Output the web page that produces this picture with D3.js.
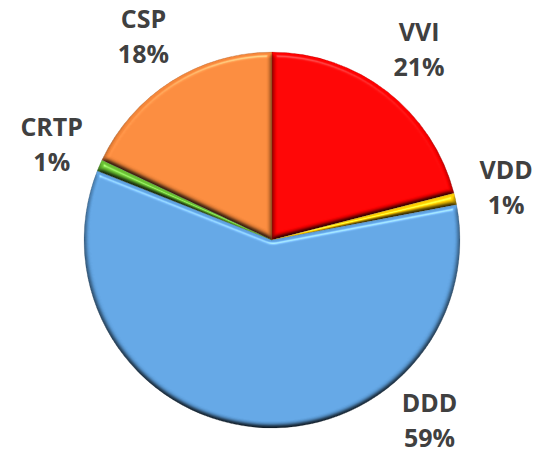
<!DOCTYPE html>
<html lang="en">
<head>
<meta charset="UTF-8">
<title>Pacing mode pie</title>
<script src="https://d3js.org/d3.v7.min.js"></script>
<style>
  body { margin: 0; background: #fff; }
  text { font-family: "Open Sans", "Noto Sans", sans-serif; font-weight: bold; fill: #404040; }
</style>
</head>
<body>
<script>
const width = 537;
const height = 455;

// data (clockwise from 12 o'clock)
const modes = ["VVI", "VDD", "DDD", "CRTP", "CSP"];
const shares = [21, 1, 59, 1, 18];
const colors = ["#ff0000", "#ffcc00", "#5fa2e0", "#68c032", "#f5873a"];

const cx = 272, cy = 240, r = 188;

const svg = d3.select("body").append("svg")
    .attr("width", width)
    .attr("height", height);

// bevel-ish lighting, light from the top
const defs = svg.append("defs");
const f = defs.append("filter").attr("id", "bevel")
    .attr("color-interpolation-filters", "sRGB")
    .attr("x", "-10%").attr("y", "-10%").attr("width", "120%").attr("height", "120%");
f.append("feGaussianBlur").attr("in", "SourceAlpha").attr("stdDeviation", 2.5).attr("result", "blur");
f.append("feDiffuseLighting").attr("in", "blur").attr("surfaceScale", 4)
    .attr("diffuseConstant", 1.155).attr("lighting-color", "#fff").attr("result", "diff")
  .append("feDistantLight").attr("azimuth", 270).attr("elevation", 60);
f.append("feComposite").attr("in", "SourceGraphic").attr("in2", "diff")
    .attr("operator", "arithmetic").attr("k1", 1).attr("k2", 0).attr("k3", 0).attr("k4", 0)
    .attr("result", "lit");
f.append("feSpecularLighting").attr("in", "blur").attr("surfaceScale", 4)
    .attr("specularConstant", 0.5).attr("specularExponent", 40).attr("lighting-color", "#fff")
    .attr("result", "spec")
  .append("feDistantLight").attr("azimuth", 270).attr("elevation", 50);
f.append("feComposite").attr("in", "spec").attr("in2", "SourceAlpha").attr("operator", "in").attr("result", "specIn");
f.append("feComposite").attr("in", "lit").attr("in2", "specIn")
    .attr("operator", "arithmetic").attr("k1", 0).attr("k2", 1).attr("k3", 0.6).attr("k4", 0)
    .attr("result", "out");
f.append("feComposite").attr("in", "out").attr("in2", "SourceAlpha").attr("operator", "in");

const pie = d3.pie().sort(null).value(d => d)(shares);
const arc = d3.arc().innerRadius(0).outerRadius(r);

const g = svg.append("g").attr("transform", `translate(${cx},${cy})`);

g.selectAll("path")
    .data(pie)
    .enter()
    .append("path")
    .attr("d", arc)
    .attr("fill", (d, i) => colors[i])
    .attr("stroke", (d, i) => d3.color(colors[i]).darker(0.8))
    .attr("stroke-width", 0.6)
    .attr("filter", "url(#bevel)");

// label placement: outside end, DDD pushed to lower right like the original
const labelR = 240;
const angleOverride = { DDD: 139 * Math.PI / 180 };

const labels = g.selectAll(".lbl")
    .data(pie)
    .enter()
    .append("g")
    .attr("class", "lbl")
    .attr("transform", (d, i) => {
        const a = angleOverride[modes[i]] !== undefined ? angleOverride[modes[i]] : (d.startAngle + d.endAngle) / 2;
        return `translate(${labelR * Math.sin(a)},${-labelR * Math.cos(a)})`;
    });

labels.append("text")
    .attr("text-anchor", "middle")
    .attr("y", -9)
    .style("font-size", "25px")
    .text((d, i) => modes[i]);

labels.append("text")
    .attr("text-anchor", "middle")
    .attr("y", 26)
    .style("font-size", "25px")
    .text((d, i) => d.data + "%");
</script>
</body>
</html>
